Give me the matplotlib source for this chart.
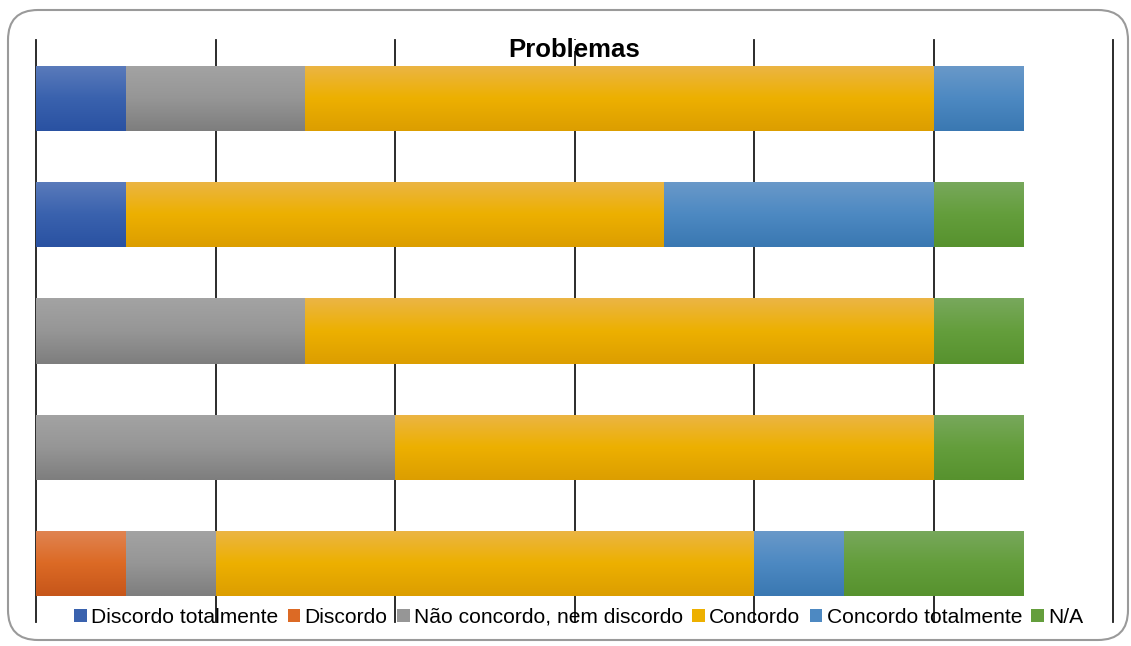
import numpy as np
import matplotlib
matplotlib.use("Agg")
import matplotlib.pyplot as plt
from matplotlib.patches import Patch, FancyBboxPatch, Rectangle
from matplotlib.colors import to_rgb
from matplotlib.transforms import IdentityTransform

plt.rcParams['font.family'] = ['Liberation Sans', 'DejaVu Sans']

title = "Problemas"
series = ["Discordo totalmente", "Discordo", "Não concordo, nem discordo",
          "Concordo", "Concordo totalmente", "N/A"]
# rows from top to bottom
discordo_totalmente = [1, 1, 0, 0, 0]
discordo = [0, 0, 0, 0, 1]
nao_concordo_nem_discordo = [2, 0, 3, 4, 1]
concordo = [7, 6, 7, 6, 6]
concordo_totalmente = [1, 3, 0, 0, 1]
na = [0, 1, 1, 1, 2]
values = [discordo_totalmente, discordo, nao_concordo_nem_discordo,
          concordo, concordo_totalmente, na]

# (top, mid, bottom) gradient colours
grads = [
    ("#5A7BBB", "#3A62AE", "#2A52A2"),
    ("#E08452", "#DC6A25", "#C6561A"),
    ("#A3A3A3", "#969696", "#7E7E7E"),
    ("#EBB545", "#EDB000", "#DC9E00"),
    ("#6A99C9", "#4D89C2", "#3A78B2"),
    ("#78A85C", "#649E3C", "#57922E"),
]
legend_cols = ["#3A62AE", "#DC6A25", "#969696", "#EDB000", "#4D89C2", "#649E3C"]

W, H = 1131, 646
fig = plt.figure(figsize=(W / 100, H / 100), dpi=100)
ax = fig.add_axes([36 / W, 1 - 622 / H, (1113 - 36) / W, 582 / H])

n = len(values[0])
ypos = np.arange(n)
bh = 0.56
left = np.zeros(n)
for vals, g in zip(values, grads):
    vals = np.array(vals, dtype=float)
    bars = ax.barh(ypos, vals, left=left, height=bh, color=g[1], linewidth=0, zorder=2)
    t, m, b = [np.array(to_rgb(c)) for c in g]
    N = 64
    s = np.linspace(0, 1, N)[:, None]
    col = np.where(s < 0.5, t + (m - t) * (s / 0.5), m + (b - m) * ((s - 0.5) / 0.5))
    img = col[:, None, :]
    for bar, v, l, y in zip(bars, vals, left, ypos):
        if v <= 0:
            continue
        im = ax.imshow(img, extent=[l, l + v, y + bh / 2, y - bh / 2], origin='upper',
                       aspect='auto', interpolation='bilinear', zorder=3)
        im.set_clip_path(bar)
    left = left + vals

ax.set_xlim(0, 12)
ax.set_ylim(n - 0.5, -0.5)
ax.set_xticks(np.arange(0, 13, 2))
ax.set_yticks([])
ax.tick_params(axis='x', length=0, labelbottom=False)
for sp in ax.spines.values():
    sp.set_visible(False)
ax.grid(axis='x', color='#1a1a1a', linewidth=1.3, zorder=1)
ax.set_axisbelow(True)
for gl in ax.get_xgridlines():
    gl.set_clip_on(False)

# white area behind the title that hides the upper part of the gridline
ax.add_patch(Rectangle((0.4355, 0.9812), 0.13, 0.0188, transform=ax.transAxes,
                       facecolor='white', edgecolor='none', zorder=4, clip_on=False))
ax.text(0.5, 0.982, title, transform=ax.transAxes, ha='center', va='center',
        fontsize=18.5, fontweight='bold', zorder=5)

handles = [Patch(facecolor=c, edgecolor='none', label=s) for c, s in zip(legend_cols, series)]
leg = ax.legend(handles=handles, loc='center', bbox_to_anchor=(0.504, 0.008), ncol=6,
                frameon=False, fontsize=15.1, handlelength=0.6, handleheight=0.6,
                handletextpad=0.2, columnspacing=0.45, borderpad=0, borderaxespad=0)
leg.set_zorder(6)

border = FancyBboxPatch((8, 6), 1120, 630, boxstyle="round,pad=0,rounding_size=30",
                        transform=IdentityTransform(), facecolor='none',
                        edgecolor='#9a9a9a', linewidth=1.5, figure=fig)
fig.patches.append(border)

fig.savefig("out.png", dpi=100)
